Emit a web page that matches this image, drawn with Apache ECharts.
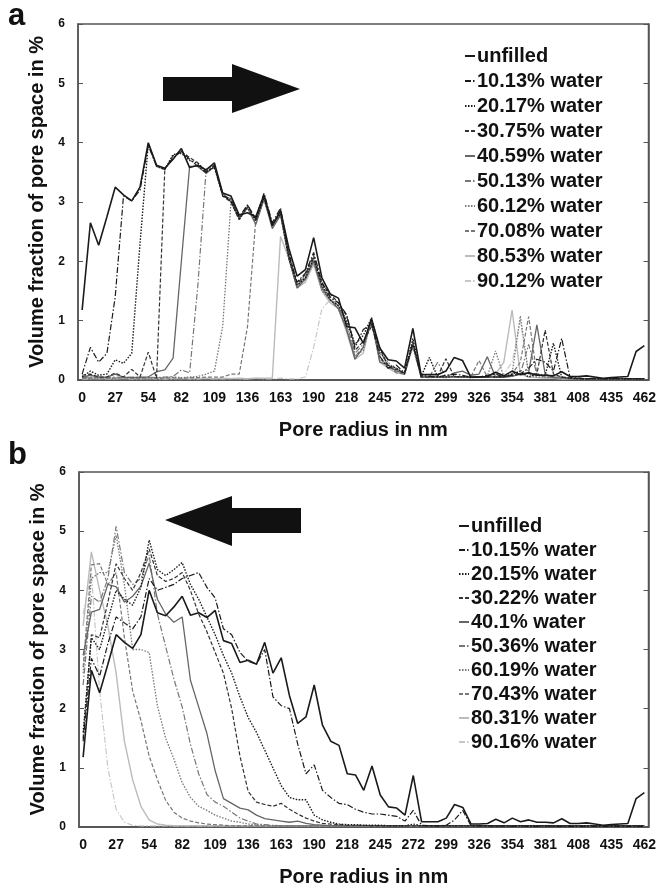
<!DOCTYPE html>
<html><head><meta charset="utf-8">
<script src="https://cdn.jsdelivr.net/npm/echarts@6/dist/echarts.min.js"></script>
<style>html,body{margin:0;padding:0;background:#fff}#c{width:659px;height:888px}</style>
</head><body><div id="c"></div>
<script>
// pore radius categories (nm)
const radii = [
0,6.8,13.6,20.4,27.2,34,40.8,47.6,54.4,61.2,
68,74.8,81.6,88.4,95.2,102,108.8,115.6,122.4,129.2,
136,142.8,149.6,156.4,163.2,170,176.8,183.6,190.4,197.2,
204,210.8,217.6,224.4,231.2,238,244.8,251.6,258.4,265.2,
272,278.8,285.6,292.4,299.2,306,312.8,319.6,326.4,333.2,
340,346.8,353.6,360.4,367.2,374,380.8,387.6,394.4,401.2,
408,414.8,421.6,428.4,435.2,442,448.8,455.6,462.4];
const yTicks = [0,1,2,3,4,5,6];

const unfilled = [
1.18,2.65,2.27,2.75,3.25,3.12,3.02,3.25,4.0,3.62,
3.57,3.72,3.9,3.58,3.62,3.54,3.66,3.15,3.1,2.78,
2.82,2.75,3.12,2.6,2.86,2.22,1.75,1.86,2.4,1.72,
1.45,1.38,0.9,0.88,0.62,1.03,0.54,0.34,0.32,0.2,
0.87,0.09,0.09,0.09,0.15,0.38,0.33,0.05,0.05,0.06,
0.13,0.07,0.15,0.09,0.12,0.08,0.08,0.07,0.14,0.06,
0.06,0.07,0.05,0.03,0.04,0.05,0.06,0.48,0.58];

// panel a
const a10 = [
0.1,0.55,0.3,0.45,1.4,3.1,3.02,3.2,3.95,3.6,
3.55,3.75,3.85,3.72,3.6,3.5,3.62,3.1,3.05,2.75,
2.95,2.72,3.15,2.65,2.9,2.1,1.65,1.8,2.15,1.65,
1.4,1.3,1.1,0.55,0.85,0.95,0.4,0.2,0.25,0.12,
0.6,0.08,0.06,0.05,0.08,0.1,0.08,0.05,0.05,0.08,
0.1,0.05,0.08,0.1,0.2,0.35,0.3,0.15,0.7,0.05,
0.03,0.02,0.03,0.02,0.02,0.03,0.02,0.02,0.02];
const a20 = [
0.05,0.15,0.08,0.1,0.34,0.28,0.45,2.3,3.98,3.6,
3.55,3.8,3.82,3.7,3.65,3.52,3.58,3.12,3.02,2.72,
2.92,2.68,3.08,2.62,2.8,2.05,1.6,1.72,2.05,1.6,
1.35,1.25,1.0,0.6,0.75,1.05,0.5,0.25,0.2,0.1,
0.7,0.06,0.38,0.05,0.05,0.06,0.05,0.04,0.05,0.05,
0.05,0.05,0.1,0.15,0.05,0.1,0.08,0.62,0.05,0.03,
0.02,0.02,0.02,0.02,0.02,0.02,0.02,0.02,0.02];
const a30 = [
0.08,0.1,0.05,0.05,0.12,0.05,0.18,0.05,0.47,0.03,
3.55,3.78,3.85,3.75,3.66,3.5,3.6,3.1,3.0,2.7,
2.95,2.7,3.1,2.6,2.85,2.15,1.62,1.78,2.1,1.62,
1.45,1.3,1.08,0.5,0.65,0.9,0.55,0.22,0.18,0.12,
0.65,0.05,0.05,0.06,0.36,0.05,0.06,0.05,0.05,0.06,
0.05,0.06,0.08,0.1,0.12,0.1,0.84,0.1,0.05,0.03,
0.02,0.02,0.02,0.02,0.02,0.02,0.02,0.02,0.02];
const a40 = [
0.05,0.08,0.05,0.05,0.1,0.05,0.04,0.05,0.05,0.14,
0.17,0.37,2.0,3.6,3.6,3.48,3.6,3.15,3.0,2.72,
2.9,2.62,3.05,2.55,2.78,2.05,1.55,1.7,2.0,1.55,
1.35,1.2,0.85,0.35,0.55,1.0,0.3,0.25,0.15,0.12,
0.62,0.06,0.05,0.05,0.05,0.12,0.15,0.08,0.1,0.39,
0.05,0.05,0.06,0.1,0.12,0.93,0.1,0.05,0.05,0.03,
0.03,0.02,0.02,0.02,0.02,0.02,0.02,0.02,0.02];
const a50 = [
0.04,0.05,0.05,0.04,0.05,0.04,0.05,0.04,0.05,0.04,
0.05,0.06,0.17,0.12,1.6,3.55,3.62,3.12,3.05,2.75,
2.92,2.68,3.1,2.6,2.82,2.1,1.6,1.75,2.08,1.58,
1.4,1.25,0.95,0.45,0.6,0.95,0.4,0.2,0.2,0.1,
0.6,0.05,0.05,0.3,0.05,0.05,0.05,0.05,0.05,0.05,
0.05,0.05,0.06,0.1,0.6,0.1,0.05,0.04,0.03,0.02,
0.02,0.02,0.02,0.02,0.02,0.02,0.02,0.02,0.02];
const a60 = [
0.03,0.04,0.03,0.04,0.03,0.04,0.03,0.04,0.03,0.04,
0.04,0.05,0.04,0.05,0.06,0.1,0.15,0.9,3.0,2.7,
2.9,2.65,3.05,2.58,2.8,2.05,1.55,1.7,2.0,1.5,
1.35,1.25,0.9,0.4,0.5,1.0,0.45,0.3,0.15,0.1,
0.55,0.05,0.05,0.05,0.06,0.05,0.06,0.05,0.05,0.06,
0.49,0.05,0.1,1.08,0.1,0.05,0.05,0.04,0.03,0.02,
0.02,0.02,0.02,0.02,0.02,0.02,0.02,0.02,0.02];
const a70 = [
0.03,0.03,0.04,0.03,0.03,0.04,0.03,0.03,0.04,0.03,
0.03,0.04,0.03,0.04,0.04,0.05,0.05,0.05,0.1,0.1,
0.9,2.7,3.05,2.6,2.82,2.1,1.58,1.72,2.02,1.55,
1.35,1.2,0.85,0.4,0.55,1.0,0.35,0.25,0.12,0.1,
0.6,0.05,0.05,0.05,0.05,0.05,0.05,0.05,0.33,0.05,
0.05,0.05,0.1,0.3,1.07,0.1,0.05,0.04,0.03,0.02,
0.02,0.02,0.02,0.02,0.02,0.02,0.02,0.02,0.02];
const a80 = [
0.02,0.03,0.02,0.03,0.02,0.03,0.02,0.03,0.02,0.03,
0.02,0.03,0.02,0.03,0.02,0.03,0.02,0.03,0.02,0.03,
0.02,0.03,0.03,0.03,2.42,2.05,1.55,1.65,1.95,1.5,
1.3,1.2,0.8,0.35,0.45,1.05,0.3,0.2,0.12,0.1,
0.6,0.05,0.04,0.05,0.04,0.05,0.05,0.05,0.05,0.05,
0.1,0.3,1.18,0.1,0.05,0.04,0.03,0.03,0.02,0.02,
0.02,0.02,0.02,0.02,0.02,0.02,0.02,0.02,0.02];
const a90 = [
0.02,0.02,0.03,0.02,0.02,0.03,0.02,0.02,0.03,0.02,
0.02,0.02,0.03,0.02,0.02,0.03,0.02,0.02,0.03,0.02,
0.02,0.03,0.02,0.02,0.03,0.02,0.02,0.05,0.55,1.2,
1.35,1.3,1.05,0.6,0.6,1.0,0.4,0.25,0.15,0.1,
0.55,0.05,0.04,0.05,0.04,0.05,0.05,0.05,0.05,0.05,
0.05,0.1,0.3,1.0,0.1,0.05,0.04,0.03,0.02,0.02,
0.02,0.02,0.02,0.02,0.02,0.02,0.02,0.02,0.02];

// panel b
const b10 = [
1.45,2.85,2.55,3.1,3.55,3.45,3.35,3.55,4.2,4.0,
4.05,4.1,4.2,4.25,4.3,4.05,3.87,3.35,3.25,2.95,
2.8,2.75,3.0,2.2,2.05,2.0,1.4,0.9,1.05,0.62,
0.5,0.4,0.38,0.3,0.25,0.22,0.22,0.2,0.18,0.1,
0.28,0.03,0.02,0.02,0.03,0.12,0.28,0.02,0.02,0.02,
0.01,0.02,0.01,0.02,0.01,0.01,0.02,0.01,0.01,0.01,
0.01,0.01,0.01,0.01,0.01,0.01,0.01,0.01,0.01];
const b20 = [
1.6,3.2,3.0,3.5,4.0,3.85,3.75,4.05,4.85,4.35,
4.25,4.35,4.47,4.1,3.85,3.55,3.25,2.9,2.6,2.2,
1.85,1.6,1.3,1.0,0.7,0.5,0.46,0.46,0.2,0.12,
0.08,0.05,0.04,0.04,0.03,0.03,0.03,0.02,0.02,0.02,
0.05,0.02,0.02,0.02,0.02,0.02,0.02,0.02,0.02,0.02,
0.02,0.02,0.02,0.02,0.02,0.02,0.02,0.02,0.02,0.02,
0.02,0.02,0.02,0.02,0.02,0.02,0.02,0.02,0.02];
const b30 = [
1.5,3.25,3.2,3.8,4.45,4.2,4.0,4.3,4.7,4.25,
4.15,4.2,4.3,4.0,3.6,3.3,2.95,2.6,2.0,1.2,
0.6,0.42,0.38,0.35,0.4,0.3,0.22,0.15,0.1,0.06,
0.05,0.04,0.03,0.03,0.03,0.02,0.02,0.02,0.02,0.02,
0.02,0.02,0.02,0.02,0.02,0.02,0.02,0.02,0.02,0.02,
0.02,0.02,0.02,0.02,0.02,0.02,0.02,0.02,0.02,0.02,
0.02,0.02,0.02,0.02,0.02,0.02,0.02,0.02,0.02];
const b40 = [
2.9,3.63,3.68,4.1,4.06,3.8,3.9,4.07,4.46,3.85,
3.6,3.46,3.55,2.48,2.03,1.58,0.95,0.48,0.4,0.32,
0.29,0.2,0.14,0.12,0.1,0.08,0.1,0.06,0.04,0.03,
0.02,0.02,0.02,0.02,0.02,0.02,0.02,0.02,0.02,0.02,
0.02,0.02,0.02,0.02,0.02,0.02,0.02,0.02,0.02,0.02,
0.02,0.02,0.02,0.02,0.02,0.02,0.02,0.02,0.02,0.02,
0.02,0.02,0.02,0.02,0.02,0.02,0.02,0.02,0.02];
const b50 = [
2.4,3.9,3.8,4.2,5.08,4.3,4.1,4.2,4.6,3.6,
3.05,2.5,2.03,1.4,0.9,0.55,0.42,0.35,0.25,0.15,
0.1,0.05,0.04,0.03,0.02,0.02,0.02,0.02,0.02,0.02,
0.02,0.02,0.02,0.02,0.02,0.02,0.02,0.02,0.02,0.02,
0.02,0.02,0.02,0.02,0.02,0.02,0.02,0.02,0.02,0.02,
0.02,0.02,0.02,0.02,0.02,0.02,0.02,0.02,0.02,0.02,
0.02,0.02,0.02,0.02,0.02,0.02,0.02,0.02,0.02];
const b60 = [
2.6,4.2,4.3,4.3,4.93,4.1,3.0,3.0,2.95,2.05,
1.5,1.15,0.75,0.5,0.35,0.28,0.2,0.15,0.1,0.08,
0.05,0.04,0.03,0.02,0.02,0.02,0.02,0.02,0.02,0.02,
0.02,0.02,0.02,0.02,0.02,0.02,0.02,0.02,0.02,0.02,
0.02,0.02,0.02,0.02,0.02,0.02,0.02,0.02,0.02,0.02,
0.02,0.02,0.02,0.02,0.02,0.02,0.02,0.02,0.02,0.02,
0.02,0.02,0.02,0.02,0.02,0.02,0.02,0.02,0.02];
const b70 = [
2.7,4.43,4.45,4.1,4.3,3.2,2.3,1.8,1.2,0.8,
0.45,0.25,0.15,0.1,0.07,0.05,0.04,0.03,0.02,0.02,
0.02,0.02,0.02,0.02,0.02,0.02,0.02,0.02,0.02,0.02,
0.02,0.02,0.02,0.02,0.02,0.02,0.02,0.02,0.02,0.02,
0.02,0.02,0.02,0.02,0.02,0.02,0.02,0.02,0.02,0.02,
0.02,0.02,0.02,0.02,0.02,0.02,0.02,0.02,0.02,0.02,
0.02,0.02,0.02,0.02,0.02,0.02,0.02,0.02,0.02];
const b80 = [
3.4,4.65,4.0,3.4,2.6,1.45,0.8,0.35,0.12,0.05,
0.03,0.02,0.02,0.02,0.02,0.02,0.02,0.02,0.02,0.02,
0.02,0.02,0.02,0.02,0.02,0.02,0.02,0.02,0.02,0.02,
0.02,0.02,0.02,0.02,0.02,0.02,0.02,0.02,0.02,0.02,
0.02,0.02,0.02,0.02,0.02,0.02,0.02,0.02,0.02,0.02,
0.02,0.02,0.02,0.02,0.02,0.02,0.02,0.02,0.02,0.02,
0.02,0.02,0.02,0.02,0.02,0.02,0.02,0.02,0.02];
const b90 = [
3.6,4.3,2.3,1.0,0.3,0.08,0.03,0.02,0.02,0.02,
0.02,0.02,0.02,0.02,0.02,0.02,0.02,0.02,0.02,0.02,
0.02,0.02,0.02,0.02,0.02,0.02,0.02,0.02,0.02,0.02,
0.02,0.02,0.02,0.02,0.02,0.02,0.02,0.02,0.02,0.02,
0.02,0.02,0.02,0.02,0.02,0.02,0.02,0.02,0.02,0.02,
0.02,0.02,0.02,0.02,0.02,0.02,0.02,0.02,0.02,0.02,
0.02,0.02,0.02,0.02,0.02,0.02,0.02,0.02,0.02];

const namesA = ['unfilled','10.13% water','20.17% water','30.75% water','40.59% water','50.13% water','60.12% water','70.08% water','80.53% water','90.12% water'];
const namesB = ['unfilled','10.15% water','20.15% water','30.22% water','40.1% water','50.36% water','60.19% water','70.43% water','80.31% water','90.16% water'];
const dataA = [unfilled,a10,a20,a30,a40,a50,a60,a70,a80,a90];
const dataB = [unfilled,b10,b20,b30,b40,b50,b60,b70,b80,b90];

const DD = [6,2,1.5,2], DOT = [1.5,1.5], DASH = [4,2];
const styles = [
 {color:'#1a1a1a', type:'solid', width:1.6},
 {color:'#1a1a1a', type:DD, width:1.2},
 {color:'#1a1a1a', type:DOT, width:1.4},
 {color:'#333333', type:DASH, width:1.2},
 {color:'#666666', type:'solid', width:1.3},
 {color:'#777777', type:DD, width:1.2},
 {color:'#777777', type:DOT, width:1.3},
 {color:'#777777', type:DASH, width:1.2},
 {color:'#bbbbbb', type:'solid', width:1.4},
 {color:'#c8c8c8', type:DD, width:1.2}
];

const FONT = 'Liberation Sans, Arial, sans-serif';
const AX = '#555';

function xAxes(g){
  return [{
    type:'category', gridIndex:g, data:radii, boundaryGap:true, position:'bottom',
    axisLine:{lineStyle:{color:AX,width:1.5}},
    axisTick:{inside:true,length:4,interval:0,lineStyle:{color:AX}},
    axisLabel:{interval:3, margin:11, color:'#111', fontFamily:FONT, fontWeight:'bold', fontSize:14,
      formatter:v=>String(Math.round(Number(v)))},
    name:'Pore radius in nm', nameLocation:'middle', nameGap:40,
    nameTextStyle:{color:'#111', fontFamily:FONT, fontWeight:'bold', fontSize:20}
  },{
    type:'category', gridIndex:g, data:radii, boundaryGap:true, position:'top',
    axisLine:{lineStyle:{color:AX,width:1.5}},
    axisTick:{inside:true,length:4,interval:0,lineStyle:{color:AX}},
    axisLabel:{show:false}
  }];
}
function yAxes(g){
  return [{
    type:'value', gridIndex:g, min:yTicks[0], max:yTicks[yTicks.length-1], interval:1, position:'left',
    axisLine:{show:true,lineStyle:{color:AX,width:1.5}},
    axisTick:{show:true,inside:true,length:5,lineStyle:{color:AX}},
    splitLine:{show:false},
    axisLabel:{margin:13, color:'#111', fontFamily:FONT, fontWeight:'bold', fontSize:12},
    name:'Volume fraction of pore space in %', nameLocation:'middle', nameRotate:90, nameGap:24,
    nameTextStyle:{color:'#111', fontFamily:FONT, fontWeight:'bold', fontSize:20}
  },{
    type:'value', gridIndex:g, min:yTicks[0], max:yTicks[yTicks.length-1], interval:1, position:'right',
    axisLine:{show:true,lineStyle:{color:AX,width:1.5}},
    axisTick:{show:true,inside:true,length:5,lineStyle:{color:AX}},
    splitLine:{show:false}, axisLabel:{show:false}
  }];
}

const series = [];
function addSeries(names, data, g){
  for (let k = data.length-1; k >= 0; k--){
    series.push({
      type:'line', name:names[k], data:data[k], xAxisIndex:g*2, yAxisIndex:g*2,
      symbol:'none', lineStyle:styles[k], itemStyle:{color:styles[k].color},
      z: 10 - k, silent:true
    });
  }
}
addSeries(namesA, dataA, 0);
addSeries(namesB, dataB, 1);

function legend(names, left, top, gap){
  return {
    data:names, orient:'vertical', left:left, top:top, itemWidth:10, itemHeight:10, itemGap:gap,
    selectedMode:false,
    itemStyle:{opacity:0, borderWidth:0},
    textStyle:{color:'#111', fontFamily:FONT, fontWeight:'bold', fontSize:20, lineHeight:20, padding:[0,0,0,-3]}
  };
}

const arrowA = [[163,77],[232,77],[232,64],[300,89],[232,113],[232,101],[163,101]];
const arrowB = [[165,520],[232,496],[232,508],[301,508],[301,533],[232,533],[232,546]];

const chart = echarts.init(document.getElementById('c'), null, {renderer:'canvas'});
chart.setOption({
  animation:false,
  backgroundColor:'#fff',
  grid:[
    {left:78, top:24, right:4, height:356, show:true, borderColor:AX, borderWidth:1.5, backgroundColor:'transparent'},
    {left:79, top:472, right:4, height:355, show:true, borderColor:AX, borderWidth:1.5, backgroundColor:'transparent'}
  ],
  xAxis:[...xAxes(0), ...xAxes(1)],
  yAxis:[...yAxes(0), ...yAxes(1)],
  legend:[legend(namesA, 459, 41, 5), legend(namesB, 453, 511, 4)],
  series:series,
  graphic:[
    {type:'text', left:8, top:1, style:{text:'a', font:'bold 31px '+FONT, fill:'#111'}},
    {type:'text', left:8, top:440, style:{text:'b', font:'bold 31px '+FONT, fill:'#111'}},
    {type:'polygon', shape:{points:arrowA}, style:{fill:'#111'}},
    {type:'polygon', shape:{points:arrowB}, style:{fill:'#111'}}
  ]
});
</script></body></html>
